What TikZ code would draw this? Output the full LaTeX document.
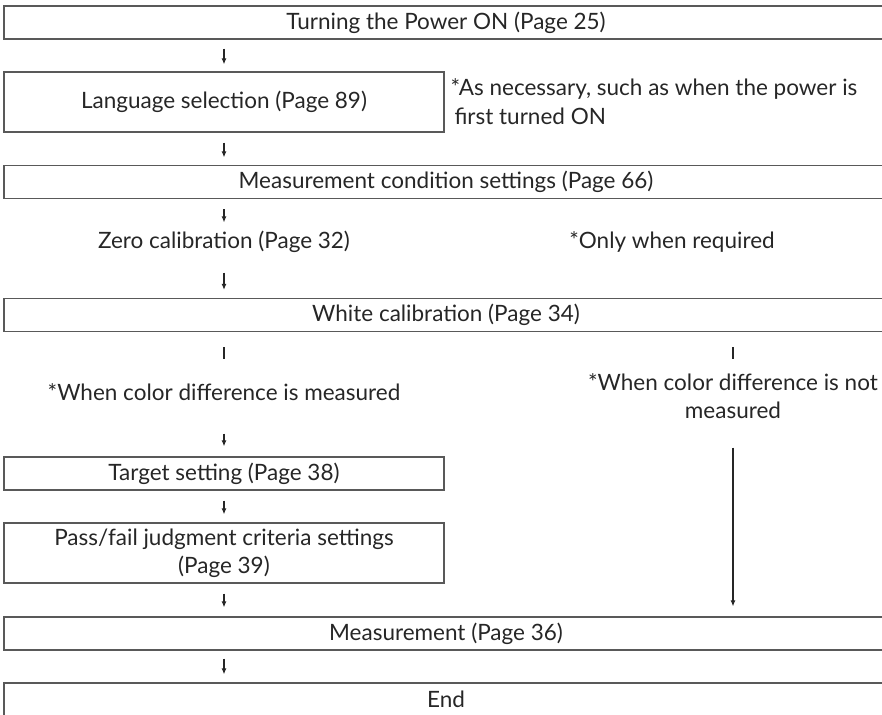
\documentclass[tikz,border=0pt]{standalone}
\usepackage{fontspec}
\setmainfont{Lato}
\usetikzlibrary{arrows.meta}

\begin{document}
\begin{tikzpicture}[x=1pt,y=-1pt,
    wide/.style   = {draw=black!65,line width=1.3pt,minimum width=884pt,minimum height=33pt,inner sep=0pt,font=\fontsize{22.5}{28}\selectfont},
    half/.style   = {draw=black!65,line width=1.3pt,minimum width=440pt,minimum height=33pt,inner sep=0pt,align=center,font=\fontsize{22.5}{28}\selectfont},
    plain/.style  = {inner sep=0pt,align=center,font=\fontsize{22.5}{28}\selectfont},
    single/.style = {plain,text height=16pt,text depth=5pt},
    note/.style   = {inner sep=0pt,align=left,anchor=west,font=\fontsize{22.5}{29}\selectfont},
    -{Latex[length=6pt,width=5pt]}, line width=1.1pt, black!85
  ]
  \clip (0,0) rectangle (882,714);

  \node[wide] (pwr)   at (446,22.5) {Turning the Power ON (Page 25)};
  \node[half,minimum height=60pt] (lang) at (224,102) {Language selection (Page 89)};
  \node[note] (nlang) at (450,102) {*As necessary, such as when the power is\\\hspace{4pt}first turned ON};
  \node[wide] (cond)  at (446,182) {Measurement condition settings (Page 66)};
  \node[single] (zero)  at (224,243) {Zero calibration (Page 32)};
  \node[single] (nzero) at (672,243) {*Only when required};
  \node[wide] (white) at (446,315) {White calibration (Page 34)};
  \node[single] (diff) at (224,395) {*When color difference is measured};
  \node[plain] (nodiff) at (733,396) {*When color difference is not\\measured};
  \node[half] (target) at (224,473.5) {Target setting (Page 38)};
  \node[half,minimum height=60pt] (judge) at (224,553) {Pass/fail judgment criteria settings\\(Page 39)};
  \node[wide] (meas)  at (446,633.5) {Measurement (Page 36)};
  \node[wide] (fin)   at (446,699.5) {End};

  % main column
  \draw[shorten <=9pt,shorten >=7pt] (lang.north |- pwr.south) -- (lang.north);
  \draw[shorten <=10pt,shorten >=7.5pt] (lang.south) -- (lang.south |- cond.north);
  \draw[shorten <=10pt,shorten >=9.5pt] (zero.north |- cond.south) -- (zero.north);
  \draw[shorten <=18.5pt,shorten >=8pt] (zero.south) -- (zero.south |- white.north);
  \draw[-,shorten <=15pt,shorten >=24.5pt] (diff.north |- white.south) -- (diff.north);
  \draw[shorten <=27.5pt,shorten >=10pt] (diff.south) -- (target.north);
  \draw[shorten <=10pt,shorten >=8pt] (target.south) -- (judge.north);
  \draw[shorten <=10pt,shorten >=9pt] (judge.south) -- (judge.south |- meas.north);
  \draw[shorten <=8pt,shorten >=8pt] (judge.south |- meas.south) -- (judge.south |- fin.north);

  % right branch
  \draw[-,shorten <=15pt,shorten >=13.5pt] (nodiff.north |- white.south) -- (nodiff.north);
  \draw[shorten <=28.5pt,shorten >=10pt] (nodiff.south) -- (nodiff.south |- meas.north);
\end{tikzpicture}
\end{document}
